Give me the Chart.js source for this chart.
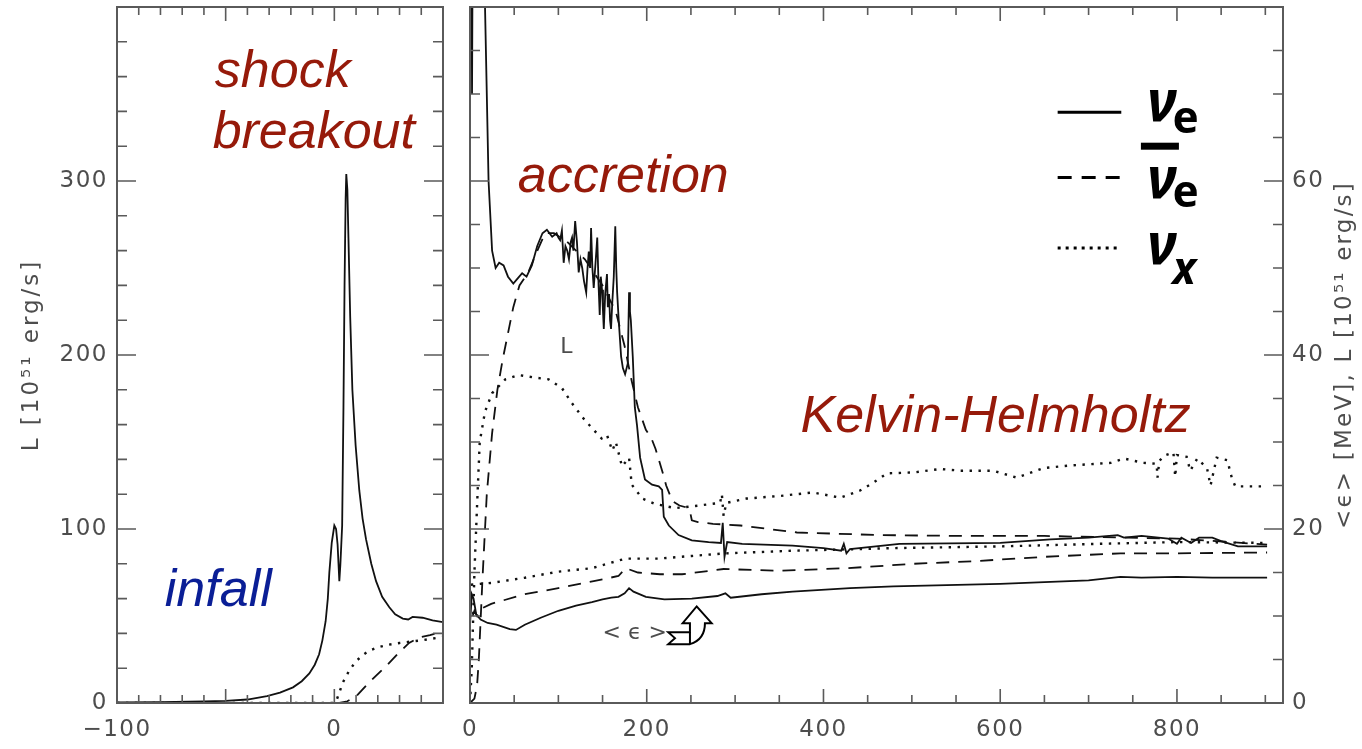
<!DOCTYPE html>
<html>
<head>
<meta charset="utf-8">
<script src="https://cdn.jsdelivr.net/npm/chart.js@4"></script>
<style>
  html, body { margin: 0; padding: 0; background: #fff; }
  #wrap { position: relative; width: 1362px; height: 749px; overflow: hidden; background: #fff; }
  #left { position: absolute; left: 0; top: 0; }
  #right { position: absolute; left: 455px; top: 0; }
</style>
</head>
<body>
<div id="wrap">
  <canvas id="left" width="455" height="749" style="width:455px;height:749px"></canvas>
  <canvas id="right" width="907" height="749" style="width:907px;height:749px"></canvas>
</div>
<script>
// ---- data: left panel, time around bounce [ms] vs L [10^51 erg/s]
const leftNueLum = [[-100,0.3],[-80,0.5],[-60,0.9],[-50,1.2],[-40,2],[-31,4],[-25,6],[-19,9],[-15,12.5],[-11.5,17],[-9,22],[-7,28],[-5.5,36],[-4,47],[-3,60],[-2.3,75],[-1.2,92],[0,102],[0.8,100],[1.5,91],[2.3,70],[2.8,80],[3.6,102],[4.2,170],[4.7,240],[5.2,290],[5.5,304],[6,295],[6.5,267],[7.3,222],[8.3,180],[9.8,148],[11.5,122],[13,106],[14.6,94],[17,80],[19.2,70],[22,61],[25.3,55],[28,51],[31.5,48.5],[34,48],[36,49.5],[40.6,49],[45.2,47.5],[50,46.5]];
const leftNuebLum = [[-100,0],[0,0],[2.3,0],[6,1],[10,3.8],[14.6,10],[19,15.5],[23.7,21],[29,28],[34.4,34.5],[39,37.6],[44,39],[49.7,41],[50,41.2]];
const leftNuxLum = [[-100,0],[0,0],[1,1.5],[2,5],[4,12],[7,19],[10,24],[13,27.5],[16,30],[20,32],[25,33.5],[30,34.5],[40,36],[50,38]];

// ---- data: right panel, time after bounce [ms] vs L [10^51 erg/s] and <eps> [MeV]
const rightNueLum = [[0,100],[1.5,91],[2.3,70],[3.6,102],[4.7,240],[5.5,304],[6.5,267],[8.3,185],[11.5,130],[14.6,100],[17,80],[19,70],[21,60],[25,52],[29,50],[33,50.6],[38,50.3],[43,49],[49,48.2],[54,48.8],[59,49.4],[64,49],[70,50.3],[76,52.5],[82,54],[87,54.4],[93,53.6],[98,54],[100,53.5],[102,53.2],[104,54.3],[106,50.6],[108,52.5],[110,52],[112,51],[114,53],[115.5,53.5],[117,52],[119,55.4],[121,53],[123,49.5],[125,51],[127,50],[129,48.5],[131.5,47.2],[133,50],[134.4,51.9],[136,50],[137,54.6],[138.5,50],[140,47.7],[142,50.5],[144,53.5],[145.5,48],[146.8,44.6],[148,49],[149.4,47.5],[150.5,45],[151.4,43],[153,47],[155,49.3],[156,45.5],[157.4,47],[158.5,44],[159.6,43],[161,46],[162.7,49],[164.4,54.8],[165.5,50],[166.5,47.2],[168.3,44],[171,39.8],[173,38.5],[175.5,37.8],[178.5,39],[180,47.2],[181,45],[182,44],[184.2,39.8],[186.5,34],[189,31.9],[192.5,28.2],[198,25.7],[206,25.1],[213.6,24.9],[217.4,24.5],[219.3,21.4],[225,20.4],[236,19.3],[251,18.7],[270,18.5],[284,18.4],[286,20.7],[288,16.8],[291,18.5],[308,18.3],[365,18.1],[400,17.8],[420,17.5],[423,18.3],[426,17.2],[430,17.7],[486,18.3],[600,18.4],[657,18.8],[700,19],[733,19.3],[740,19],[760,19.2],[790,18.9],[800,18.3],[805,19],[816,18.4],[825,19],[840,19],[850,18.6],[869,18],[902,18]];
const rightNuebLum = [[0,0],[5,0.5],[8,2],[10,5],[14,14],[19,24],[25,31],[31,36],[37,39.5],[43,42.5],[49,45.5],[56,48],[66,49.5],[74,51.5],[85,54],[95,54],[110,53],[130,51],[150,48],[165,45],[175,41],[183,37],[190,34],[199,31.4],[205,30.5],[210,29.2],[218,26.5],[222,25],[229,23.2],[237,22.7],[244,22.5],[249,22],[251,21],[258,20.8],[275,20.6],[306,20.4],[370,19.6],[464,19.3],[560,19.2],[650,19.2],[744,19],[800,18.9],[860,18.5],[902,18.2]];
const rightNuxLum = [[0,0],[2,4],[5,15],[8,22.7],[11,30],[17,33.5],[25,35.6],[40,37.2],[55,37.7],[74,37.4],[89,37.2],[104,36.2],[115,34.5],[130,32.5],[149,30.4],[155,30.8],[161,29],[165,30],[172,27.2],[180,28.2],[183,25.1],[195,23.5],[209,22.9],[232,22.4],[251,22.6],[283,23],[285,24],[287,21.5],[290,23],[313,23.5],[351,23.8],[388,24.2],[419,23.6],[441,24.4],[456,25.3],[472,26.4],[502,26.5],[532,26.9],[555,26.7],[592,26.7],[619,25.9],[649,27],[679,27.3],[725,27.6],[740,28.1],[762,27.6],[777,27.5],[778,25.9],[780,27.8],[785,28.4],[796,28.8],[798,26],[800,28.5],[811,28.3],[815,26.7],[823,28.1],[834,27],[838,25],[845,28.2],[857,27.9],[862,25.9],[866,24.9],[902,24.9]];
const rightNueEps = [[0,9],[2,12.5],[4,12],[7,10.2],[12,9.6],[20,9.2],[30,9.0],[45,8.5],[52,8.4],[62,9.0],[80,9.8],[100,10.6],[120,11.2],[138,11.6],[150,11.9],[160,12.1],[168,12.2],[175,12.6],[180,13.2],[185,12.8],[199,12.2],[220,11.9],[251,12.0],[280,12.3],[289,12.6],[295,12.1],[330,12.5],[365,12.8],[430,13.2],[479,13.4],[600,13.7],[700,14.1],[736,14.5],[760,14.4],[800,14.5],[840,14.4],[880,14.4],[902,14.4]];
const rightNuebEps = [[3,10],[5,10.6],[8,10],[12,10.8],[24,11.4],[62,12.5],[100,13.2],[140,14],[168,14.6],[176,15.5],[190,15],[215,14.8],[240,14.8],[287,15.4],[351,15.2],[427,15.5],[502,16],[570,16.3],[650,16.8],[736,17.2],[800,17.2],[902,17.3]];
const rightNuxEps = [[1,13.6],[24,13.8],[62,14.4],[100,15.1],[138,15.5],[176,16.6],[213,16.6],[251,16.9],[289,17.2],[365,17.5],[479,17.8],[600,18],[714,18.3],[800,18.5],[902,18.4]];

// ---- tick labels
const leftXTicks = [-100, 0];
const leftYTicks = [0, 100, 200, 300];
const rightXTicks = [0, 200, 400, 600, 800];
const rightYTicks = [0, 20, 40, 60];

const RED = '#961a0a';
const BLUE = '#0a1e96';
const GREY = '#4d4d4d';
const tickFont = { family: 'DejaVu Sans', size: 23 };

function line(points, style) {
  return {
    data: points.map(p => ({ x: p[0], y: p[1] })),
    showLine: true,
    pointRadius: 0,
    borderColor: '#111',
    borderWidth: style === 'dotted' ? 2.4 : 1.8,
    borderDash: style === 'dashed' ? [13, 9] : style === 'dotted' ? [2.4, 6.5] : [],
    fill: false,
    tension: 0
  };
}

function fmt(v) {
  return v < 0 ? '\u2212' + Math.abs(v) : String(v);
}

// frame, inward ticks, labels drawn on top of the plot
const decoPlugin = {
  id: 'deco',
  beforeDraw(chart) {
    chart.ctx.letterSpacing = '1.5px';
  },
  afterDraw(chart, args, o) {
    const ctx = chart.ctx, a = chart.chartArea;
    const xs = chart.scales.x, ys = chart.scales.y;
    ctx.save();
    ctx.letterSpacing = '0px';
    ctx.strokeStyle = '#5a5a5a';
    ctx.lineWidth = 2;
    ctx.strokeRect(a.left, a.top, a.right - a.left, a.bottom - a.top);

    ctx.lineWidth = 1.6;
    for (let v = xs.min; v <= xs.max + 1e-6; v += o.xMinor) {
      const major = Math.abs(v % o.xMajor) < 1e-6;
      const len = major ? 14 : 8;
      const px = xs.getPixelForValue(v);
      ctx.beginPath();
      ctx.moveTo(px, a.bottom); ctx.lineTo(px, a.bottom - len);
      ctx.moveTo(px, a.top); ctx.lineTo(px, a.top + len);
      ctx.stroke();
    }
    for (let v = ys.min; v <= ys.max + 1e-6; v += o.yMinor) {
      const major = Math.abs(v % o.yMajor) < 1e-6;
      const len = major ? 19 : 10;
      const py = ys.getPixelForValue(v);
      ctx.beginPath();
      ctx.moveTo(a.left, py); ctx.lineTo(a.left + len, py);
      ctx.moveTo(a.right, py); ctx.lineTo(a.right - len, py);
      ctx.stroke();
    }

    // axis title
    if (o.title) {
      ctx.save();
      ctx.translate(o.title.side === 'left' ? a.left - 85 : a.right + 62, (a.top + a.bottom) / 2);
      ctx.rotate(-Math.PI / 2);
      ctx.fillStyle = GREY;
      ctx.font = '23px "DejaVu Sans"';
      ctx.letterSpacing = o.title.spacing;
      ctx.textAlign = 'center';
      ctx.textBaseline = 'middle';
      ctx.fillText(o.title.text, 0, 0);
      ctx.restore();
    }

    // annotations
    ctx.textBaseline = 'alphabetic';
    ctx.textAlign = 'left';
    (o.texts || []).forEach(t => {
      ctx.font = t.font;
      ctx.fillStyle = t.color;
      ctx.fillText(t.text, xs.getPixelForValue(t.x), ys.getPixelForValue(t.y));
    });

    // legend
    if (o.legend) {
      const L = o.legend;
      const x0 = xs.getPixelForValue(L.x0), x1 = xs.getPixelForValue(L.x1);
      L.rows.forEach(r => {
        const py = ys.getPixelForValue(r.y);
        ctx.beginPath();
        ctx.strokeStyle = '#000';
        ctx.lineWidth = 3;
        ctx.setLineDash(r.style === 'dashed' ? [14, 10] : r.style === 'dotted' ? [3, 5] : []);
        ctx.moveTo(x0, py); ctx.lineTo(x1, py);
        ctx.stroke();
        ctx.setLineDash([]);
        const gx = xs.getPixelForValue(L.gx);
        ctx.fillStyle = '#000';
        ctx.font = 'italic bold 58px "Noto Sans", "DejaVu Sans"';
        ctx.fillText('\u03bd', gx, ys.getPixelForValue(r.gy));
        const nw = ctx.measureText('\u03bd').width;
        ctx.font = (r.sub === 'x' ? 'italic ' : '') + 'bold 44px "Noto Sans", "DejaVu Sans"';
        ctx.fillText(r.sub, gx + nw - 4, ys.getPixelForValue(r.sy));
        if (r.bar) {
          const by = ys.getPixelForValue(r.bar);
          ctx.fillRect(gx - 6, by - 3.5, 38, 7);
        }
      });
    }

    // arrow next to <eps>
    if (o.arrow) {
      const ax = xs.getPixelForValue(o.arrow.x), ay = ys.getPixelForValue(o.arrow.y);
      const P = [[28.7,0],[43.7,16.7],[37,16.7],null,[22,37.7],[0.3,37.7],[7,31.7],[0.3,25.7],[22,25.7],[22,16.7],[14.7,16.7]];
      ctx.beginPath();
      ctx.moveTo(ax + P[0][0], ay + P[0][1]);
      ctx.lineTo(ax + P[1][0], ay + P[1][1]);
      ctx.lineTo(ax + P[2][0], ay + P[2][1]);
      ctx.quadraticCurveTo(ax + 37, ay + 33, ax + 22, ay + 37.7);
      for (let i = 5; i < P.length; i++) ctx.lineTo(ax + P[i][0], ay + P[i][1]);
      ctx.closePath();
      ctx.fillStyle = '#fff';
      ctx.fill();
      ctx.strokeStyle = '#000';
      ctx.lineWidth = 2;
      ctx.stroke();
      ctx.beginPath();
      ctx.moveTo(ax + 22, ay + 25.7); ctx.lineTo(ax + 22, ay + 37.7);
      ctx.stroke();
    }
    ctx.restore();
  }
};

function axis(min, max, ticks, size, pos) {
  const horizontal = pos === 'bottom';
  return {
    type: 'linear',
    position: pos,
    min: min,
    max: max,
    afterBuildTicks: ax => { ax.ticks = ticks.map(v => ({ value: v })); },
    afterFit: ax => {
      if (horizontal) ax.height = size; else ax.width = size;
      ax.paddingTop = 0; ax.paddingBottom = 0; ax.paddingLeft = 0; ax.paddingRight = 0;
    },
    grid: { display: false, drawTicks: false },
    border: { display: false },
    ticks: {
      font: tickFont,
      color: GREY,
      padding: horizontal ? 13 : 9,
      maxRotation: 0,
      autoSkip: false,
      callback: v => fmt(v)
    }
  };
}

new Chart(document.getElementById('left'), {
  type: 'scatter',
  data: {
    datasets: [
      line(leftNueLum, 'solid'),
      line(leftNuebLum, 'dashed'),
      line(leftNuxLum, 'dotted')
    ]
  },
  options: {
    responsive: false,
    animation: false,
    layout: { padding: { top: 7, right: 12, left: 0, bottom: 0 } },
    plugins: {
      legend: { display: false },
      tooltip: { enabled: false },
      deco: {
        xMinor: 10, xMajor: 50, yMinor: 20, yMajor: 100,
        title: { side: 'left', text: 'L [10\u2075\u00b9 erg/s]', spacing: '3px' },
        texts: [
          { text: 'shock', x: -55, y: 354, font: 'italic 52px "Liberation Sans"', color: RED },
          { text: 'breakout', x: -56, y: 319, font: 'italic 52px "Liberation Sans"', color: RED },
          { text: 'infall', x: -78, y: 56, font: 'italic 52px "Liberation Sans"', color: BLUE }
        ]
      }
    },
    scales: {
      x: axis(-100, 50, leftXTicks, 46, 'bottom'),
      y: axis(0, 400, leftYTicks, 117, 'left')
    }
  },
  plugins: [decoPlugin]
});

new Chart(document.getElementById('right'), {
  type: 'scatter',
  data: {
    datasets: [
      line(rightNueLum, 'solid'),
      line(rightNuebLum, 'dashed'),
      line(rightNuxLum, 'dotted'),
      line(rightNueEps, 'solid'),
      line(rightNuebEps, 'dashed'),
      line(rightNuxEps, 'dotted')
    ]
  },
  options: {
    responsive: false,
    animation: false,
    layout: { padding: { top: 7, right: 0, left: 15, bottom: 0 } },
    plugins: {
      legend: { display: false },
      tooltip: { enabled: false },
      deco: {
        xMinor: 50, xMajor: 200, yMinor: 5, yMajor: 20,
        title: { side: 'right', text: '<\u03f5> [MeV], L [10\u2075\u00b9 erg/s]', spacing: '2.2px' },
        texts: [
          { text: 'accretion', x: 54, y: 58.7, font: 'italic 52px "Liberation Sans"', color: RED },
          { text: 'Kelvin-Helmholtz', x: 374, y: 31.1, font: 'italic 52px "Liberation Sans"', color: RED },
          { text: 'L', x: 102, y: 40.2, font: '22px "DejaVu Sans"', color: GREY },
          { text: '< \u03f5 >', x: 150, y: 7.4, font: '22px "DejaVu Sans"', color: GREY }
        ],
        arrow: { x: 224, y: 11.1 },
        legend: {
          x0: 665, x1: 737, gx: 766,
          rows: [
            { style: 'solid', y: 67.9, gy: 66.9, sub: 'e', sy: 65.5 },
            { style: 'dashed', y: 60.4, gy: 58.1, sub: 'e', sy: 57, bar: 64.0 },
            { style: 'dotted', y: 52.3, gy: 50.5, sub: 'x', sy: 48.2 }
          ]
        }
      }
    },
    scales: {
      x: axis(0, 920, rightXTicks, 46, 'bottom'),
      y: axis(0, 80, rightYTicks, 79, 'right')
    }
  },
  plugins: [decoPlugin]
});
</script>
</body>
</html>
